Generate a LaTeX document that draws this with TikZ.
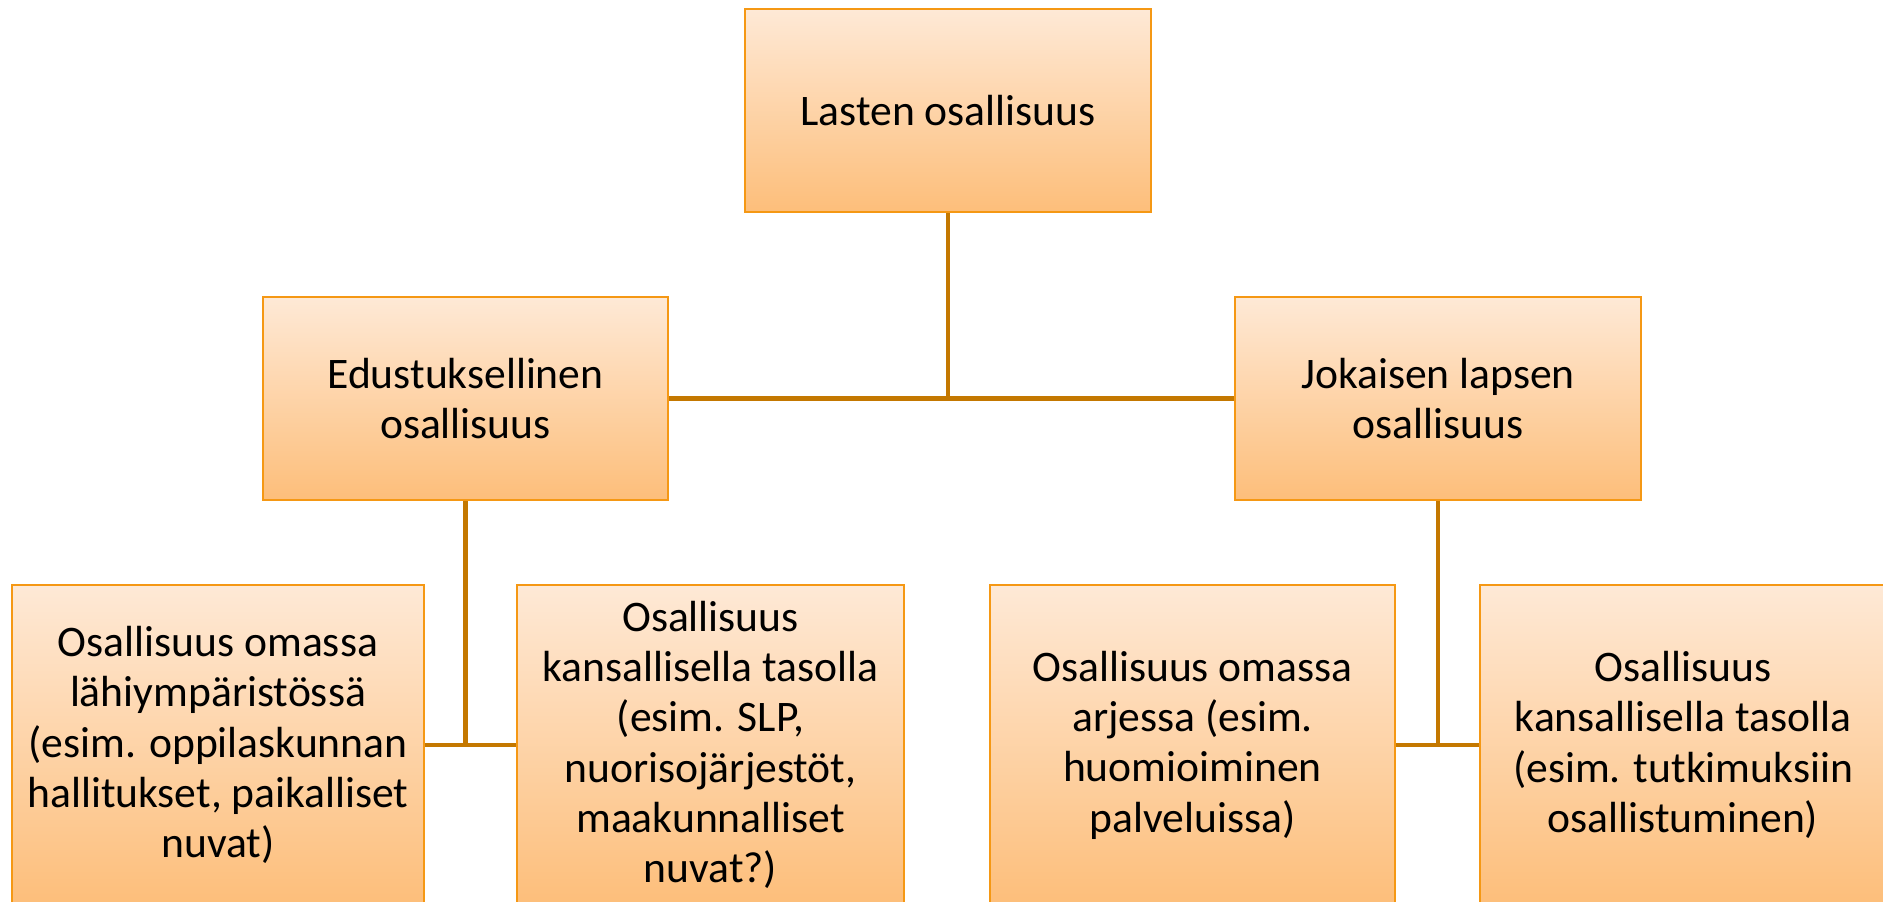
\documentclass[tikz,border=0pt]{standalone}
\usepackage{fontspec}
\setmainfont{Carlito}
\definecolor{boxline}{RGB}{245,152,20}
\definecolor{linkc}{RGB}{196,120,0}
\definecolor{boxtop}{RGB}{254,233,214}
\definecolor{boxbot}{RGB}{253,190,122}
\tikzset{
  orgbox/.style={draw=boxline, line width=0.7pt, top color=boxtop, bottom color=boxbot,
    align=center, inner sep=0pt, font=\fontsize{12.4}{14.3}\selectfont},
  link/.style={draw=linkc, line width=1.4pt}
}
\begin{document}
\begin{tikzpicture}[x=1cm, y=-1cm]
  \useasboundingbox (0,0) rectangle (18.83,9.01);
  % top level
  \node[orgbox, minimum width=4.06cm, minimum height=2.03cm] (lasten) at (9.48,1.105) {Lasten osallisuus};
  % second level
  \node[orgbox, minimum width=4.05cm, minimum height=2.03cm] (edu) at (4.655,3.985) {Edustuksellinen\\osallisuus};
  \node[orgbox, minimum width=4.06cm, minimum height=2.03cm] (jok) at (14.38,3.985) {Jokaisen lapsen\\osallisuus};
  % third level (cut by the page edge)
  \node[orgbox, minimum width=4.12cm, minimum height=3.2cm] (lahi) at (2.18,7.45) {Osallisuus omassa\\lähiympäristössä\\(esim. oppilaskunnan\\hallitukset, paikalliset\\nuvat)};
  \node[orgbox, minimum width=3.87cm, minimum height=3.2cm] (kans1) at (7.105,7.45) {Osallisuus\\kansallisella tasolla\\(esim. SLP,\\nuorisojärjestöt,\\maakunnalliset\\nuvat?)};
  \node[orgbox, minimum width=4.05cm, minimum height=3.2cm] (arki) at (11.925,7.45) {Osallisuus omassa\\arjessa (esim.\\huomioiminen\\palveluissa)};
  \node[orgbox, minimum width=4.06cm, minimum height=3.2cm] (kans2) at (16.83,7.45) {Osallisuus\\kansallisella tasolla\\(esim. tutkimuksiin\\osallistuminen)};
  % connectors
  \draw[link] (lasten.south) -- (lasten.south |- edu.east);
  \draw[link] (edu.east) -- (jok.west);
  \draw[link] (edu.south) -- (edu.south |- lahi.east);
  \draw[link] (lahi.east) -- (kans1.west);
  \draw[link] (jok.south) -- (jok.south |- arki.east);
  \draw[link] (arki.east) -- (kans2.west);
\end{tikzpicture}
\end{document}
